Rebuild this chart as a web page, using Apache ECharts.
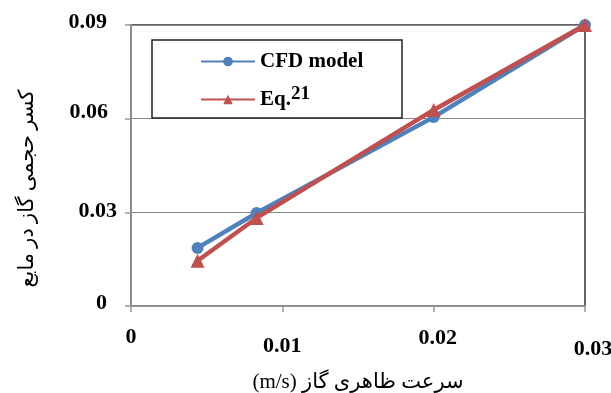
<!DOCTYPE html>
<html>
<head>
<meta charset="utf-8">
<script src="https://cdn.jsdelivr.net/npm/echarts@6/dist/echarts.min.js"></script>
<style>
  html, body { margin: 0; padding: 0; background: #fff; }
  #chart { width: 611px; height: 393px; }
</style>
</head>
<body>
<div id="chart"></div>
<script>
// Superficial gas velocity (m/s) and gas hold-up values
const velocity = [0.0044, 0.0083, 0.02, 0.03];
const cfdModel = [0.0186, 0.0298, 0.0605, 0.09];
const eq21 = [0.0145, 0.0282, 0.0628, 0.09];

const xTicks = ['0', '0.01', '0.02', '0.03'];
const yTicks = ['0', '0.03', '0.06', '0.09'];

const seriesNames = ['CFD model', 'Eq.21'];
const xTitle = '(m/s) سرعت ظاهری گاز';
const yTitle = 'کسر حجمی گاز در مایع';

const serif = '"Liberation Serif", "Times New Roman", "DejaVu Serif", serif';
const persian = '"Liberation Serif", "DejaVu Sans", "Noto Sans", sans-serif';

function pairs(xs, ys) {
  return xs.map((x, i) => [x, ys[i]]);
}

const tickFont = { fontFamily: serif, fontWeight: 'bold', fontSize: 22, color: '#000' };

// per-label nudges for the tick text
const xRich = {
  x0: Object.assign({ padding: [0, 0, 0, 0] }, tickFont),
  x1: Object.assign({ padding: [9, 0, 0, 0] }, tickFont),
  x2: Object.assign({ padding: [1, 0, 0, 8] }, tickFont),
  x3: Object.assign({ padding: [12, 0, 0, 16] }, tickFont)
};
const yRich = {
  y0: Object.assign({ padding: [0, 10, 6, 0] }, tickFont),
  y1: Object.assign({ padding: [0, 0, 2, 0] }, tickFont),
  y2: Object.assign({ padding: [0, 9, 12, 0] }, tickFont),
  y3: Object.assign({ padding: [0, 10, 5, 0] }, tickFont)
};

const chart = echarts.init(document.getElementById('chart'));
chart.setOption({
  animation: false,
  backgroundColor: '#fff',
  grid: {
    left: 131, right: 26, top: 25, bottom: 87,
    outerBoundsMode: 'none',
    containLabel: false,
    show: true, borderColor: '#333', borderWidth: 1.5, backgroundColor: 'transparent'
  },
  graphic: [{
    type: 'rect',
    shape: { x: 152, y: 40, width: 250, height: 78 },
    style: { fill: '#fff', stroke: '#222', lineWidth: 1.5 },
    z: 50
  }],
  legend: {
    orient: 'vertical',
    left: 195,
    top: 46,
    itemWidth: 54,
    itemHeight: 12,
    itemGap: 13,
    z: 60,
    data: seriesNames,
    lineStyle: { width: 2 },
    textStyle: {
      fontFamily: serif, fontWeight: 'bold', fontSize: 21, color: '#000',
      rich: {
        sup: { fontFamily: serif, fontWeight: 'bold', fontSize: 19, color: '#000', padding: [0, 0, 10, 0] }
      }
    },
    formatter: function (name) {
      if (name === 'Eq.21') return 'Eq.{sup|21}';
      return name;
    }
  },
  xAxis: {
    type: 'value',
    min: 0, max: 0.03, interval: 0.01,
    name: xTitle,
    nameLocation: 'middle',
    nameGap: 66,
    nameTextStyle: { fontFamily: persian, fontSize: 21, color: '#000' },
    axisLine: { show: true, lineStyle: { color: '#999', width: 1.5 } },
    axisTick: { show: true, length: 6, lineStyle: { color: '#999', width: 1.5 } },
    splitLine: { show: false },
    axisLabel: {
      margin: 20,
      formatter: function (v) {
        const i = Math.round(v / 0.01);
        return '{x' + i + '|' + xTicks[i] + '}';
      },
      rich: xRich
    }
  },
  yAxis: {
    type: 'value',
    min: 0, max: 0.09, interval: 0.03,
    name: yTitle,
    nameLocation: 'middle',
    nameRotate: 90,
    nameGap: 93,
    nameTextStyle: { fontFamily: persian, fontSize: 21, color: '#000', padding: [0, 46, 0, 0] },
    axisLine: { show: true, lineStyle: { color: '#999', width: 1.5 } },
    axisTick: { show: true, length: 6, lineStyle: { color: '#999', width: 1.5 } },
    splitLine: { show: true, lineStyle: { color: '#888', width: 1.2 } },
    axisLabel: {
      margin: 14,
      formatter: function (v) {
        const i = Math.round(v / 0.03);
        return '{y' + i + '|' + yTicks[i] + '}';
      },
      rich: yRich
    }
  },
  series: [
    {
      name: seriesNames[0],
      type: 'line',
      data: pairs(velocity, cfdModel),
      symbol: 'circle',
      symbolSize: 12,
      lineStyle: { color: '#4F81BD', width: 4.5 },
      itemStyle: { color: '#4F81BD' },
      z: 3
    },
    {
      name: seriesNames[1],
      type: 'line',
      data: pairs(velocity, eq21),
      symbol: 'triangle',
      symbolSize: 14,
      lineStyle: { color: '#C0504D', width: 4.5 },
      itemStyle: { color: '#C0504D' },
      z: 4
    }
  ]
});
</script>
</body>
</html>
